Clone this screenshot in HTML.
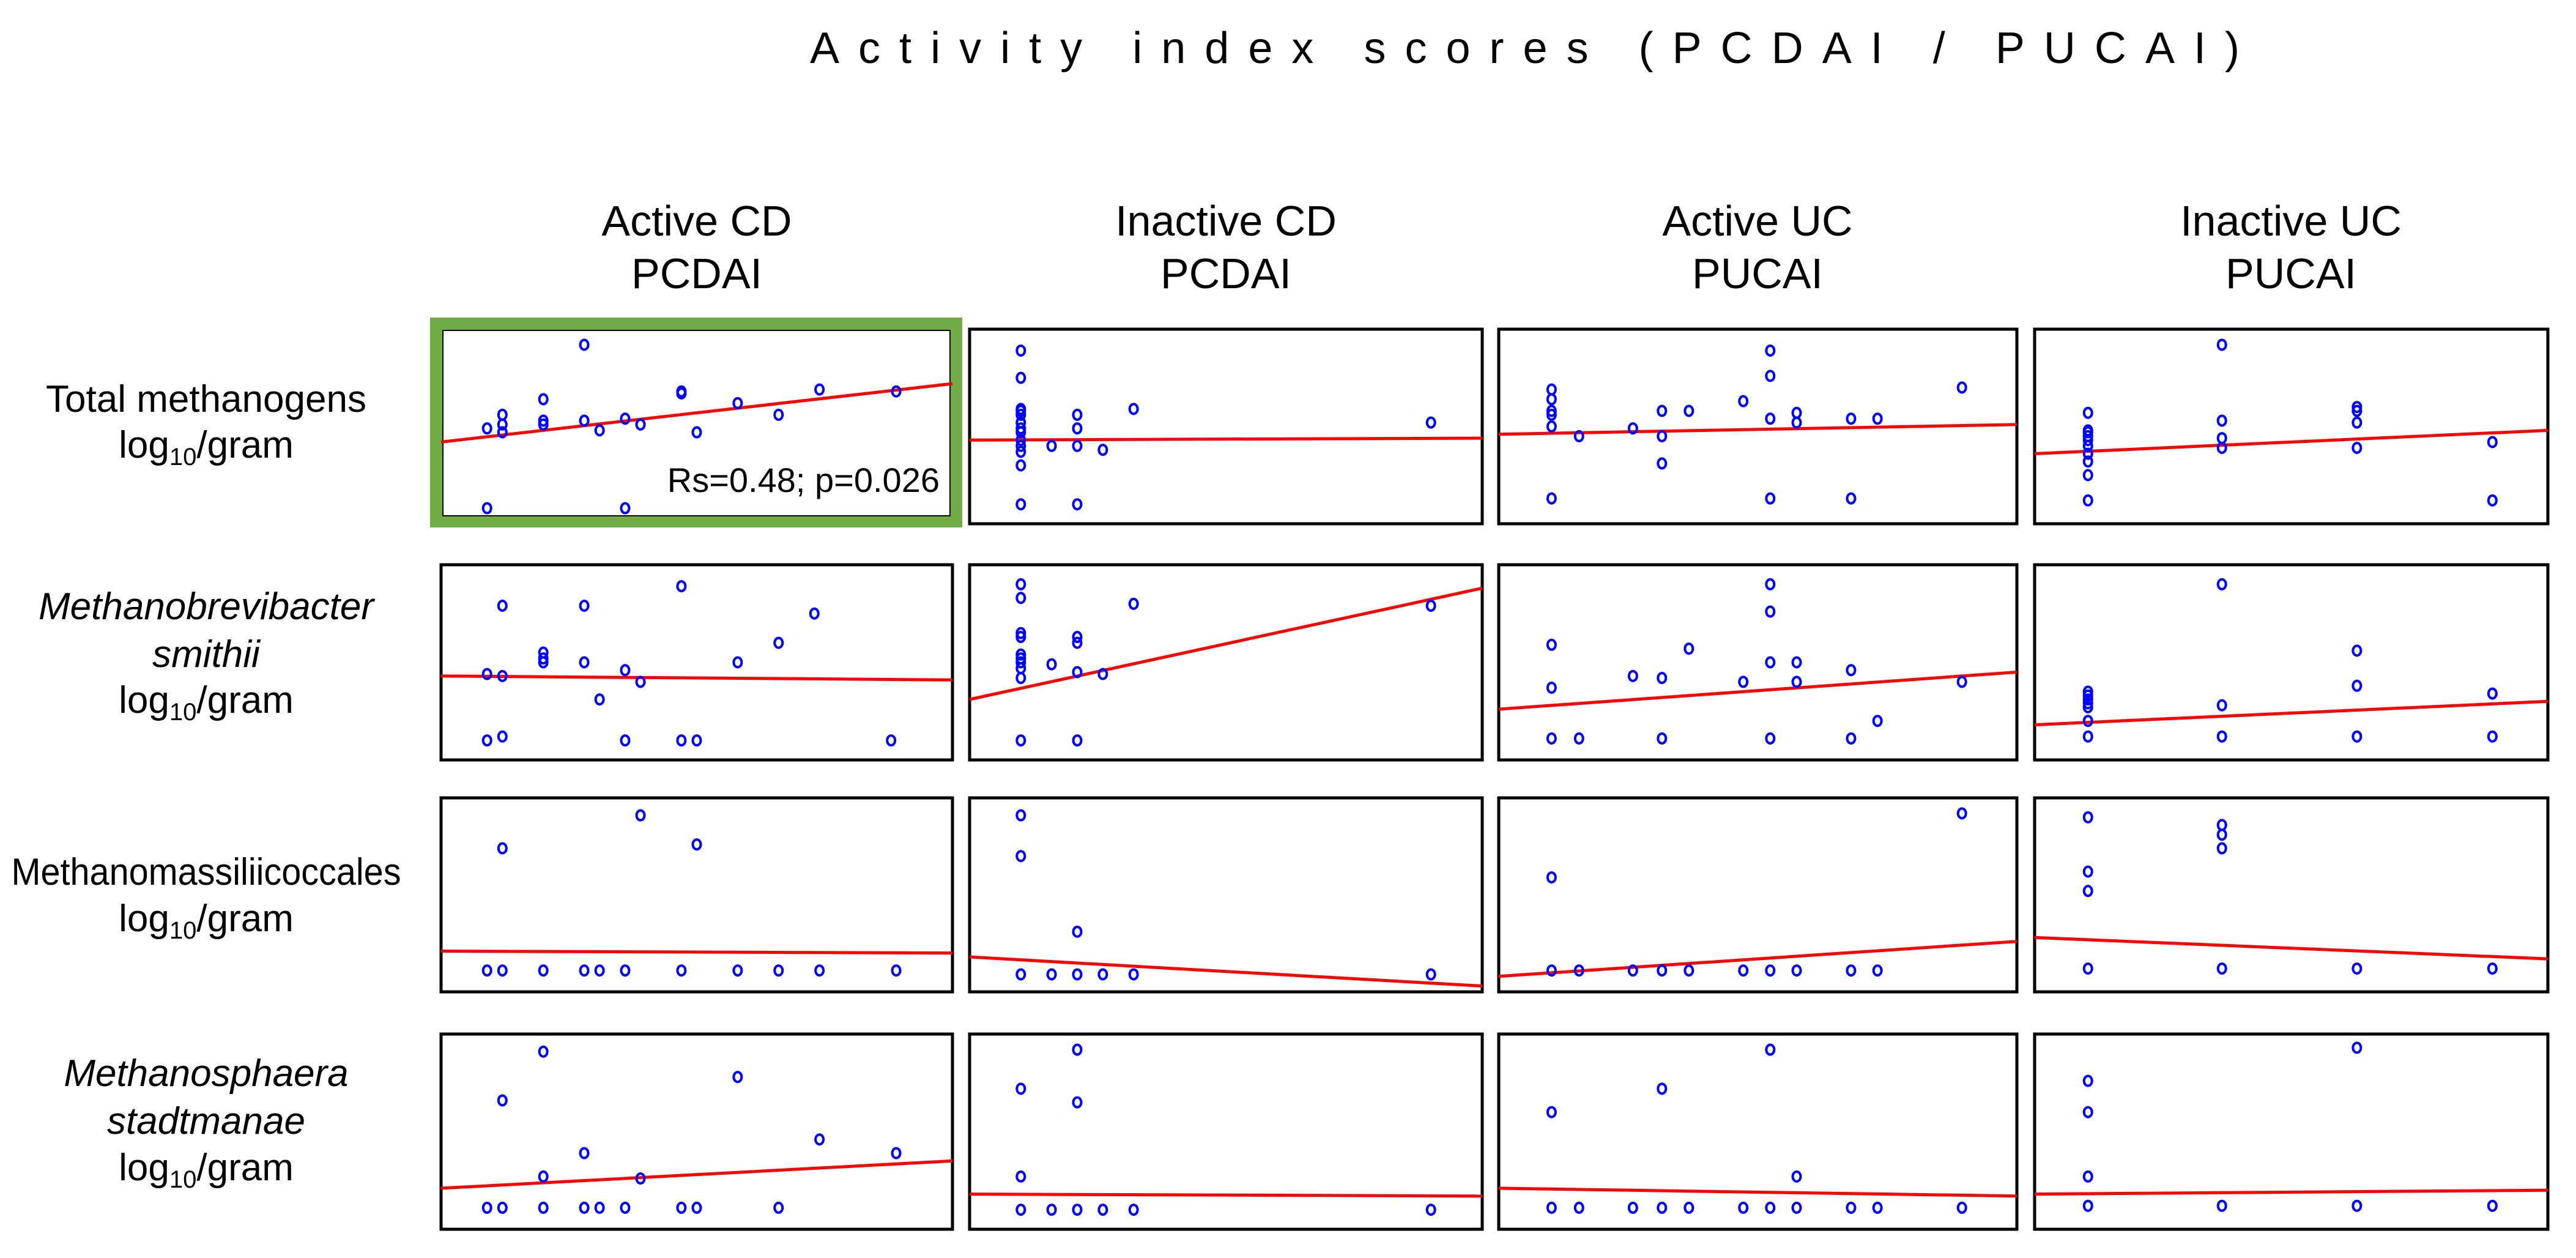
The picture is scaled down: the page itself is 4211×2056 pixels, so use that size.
<!DOCTYPE html>
<html><head><meta charset="utf-8"><style>
html,body{margin:0;padding:0;background:#fff;}
svg{display:block;font-family:"Liberation Sans",sans-serif;}
</style></head><body>
<svg id="fig" width="4211" height="2056" viewBox="0 0 4211 2056" xmlns="http://www.w3.org/2000/svg">
<rect width="4211" height="2056" fill="#fff"/>
<text x="1324" y="103" font-size="72" textLength="2337" lengthAdjust="spacing">Activity index scores (PCDAI / PUCAI)</text>
<g font-size="70" text-anchor="middle">
<text x="1139" y="385">Active CD</text>
<text x="1139" y="471">PCDAI</text>
<text x="2004" y="385">Inactive CD</text>
<text x="2004" y="471">PCDAI</text>
<text x="2873" y="385">Active UC</text>
<text x="2873" y="471">PUCAI</text>
<text x="3745" y="385">Inactive UC</text>
<text x="3745" y="471">PUCAI</text>
</g>
<g font-size="62" text-anchor="middle">
<text x="337" y="673">Total methanogens</text>
<text x="337" y="748">log<tspan font-size="40" dy="12">10</tspan><tspan dy="-12">/gram</tspan></text>
<text x="337" y="1012" font-style="italic">Methanobrevibacter</text>
<text x="337" y="1090" font-style="italic">smithii</text>
<text x="337" y="1165">log<tspan font-size="40" dy="12">10</tspan><tspan dy="-12">/gram</tspan></text>
<text x="337" y="1446" textLength="637" lengthAdjust="spacingAndGlyphs">Methanomassiliicoccales</text>
<text x="337" y="1522">log<tspan font-size="40" dy="12">10</tspan><tspan dy="-12">/gram</tspan></text>
<text x="337" y="1775" font-style="italic">Methanosphaera</text>
<text x="337" y="1853" font-style="italic">stadtmanae</text>
<text x="337" y="1929">log<tspan font-size="40" dy="12">10</tspan><tspan dy="-12">/gram</tspan></text>
</g>
<rect x="713.5" y="529.5" width="849" height="322" fill="none" stroke="#70ad47" stroke-width="21"/>
<g id="plots"></g>
<text x="1536" y="804" font-size="56" text-anchor="end">Rs=0.48; p=0.026</text>
</svg>
<script>
// Data: x = activity index score (0-100), y = log10/gram (0-10); line = fitted [y at x=0, y at x=100]
const p11x=[9,12,12,12,20,20,20,28,28,31,36,39,47,47,50,58,66,74,89,9,36];
const p11y=[4.9,5.6,5.1,4.7,6.4,5.3,5.1,9.2,5.3,4.8,5.4,5.1,6.8,6.7,4.7,6.2,5.6,6.9,6.8,0.8,0.8];
const p11line=[4.2,7.2];
const p12x=[10,10,10,10,10,10,10,10,10,10,10,10,10,16,21,21,21,21,26,32,90];
const p12y=[8.9,7.5,5.9,5.8,5.6,5.2,4.9,4.7,4.3,4.0,3.7,3.0,1.0,4.0,5.6,4.9,4.0,1.0,3.8,5.9,5.2];
const p12line=[4.3,4.4];
const p13x=[10.2,10.2,10.2,10.2,10.2,10.2,15.5,25.9,31.5,31.5,31.5,36.7,47.2,52.4,52.4,52.4,52.4,57.5,57.5,68,68,73.1,89.4];
const p13y=[6.9,6.4,5.8,5.6,5.0,1.3,4.5,4.9,5.8,4.5,3.1,5.8,6.3,8.9,7.6,5.4,1.3,5.7,5.2,5.4,1.3,5.4,7.0];
const p13line=[4.6,5.1];
const p14x=[10.4,10.4,10.4,10.4,10.4,10.4,10.4,10.4,10.4,10.4,36.5,36.5,36.5,36.5,62.8,62.8,62.8,62.8,89.2,89.2];
const p14y=[5.7,4.8,4.7,4.5,4.3,4.0,3.6,3.2,2.5,1.2,9.2,5.3,4.4,3.9,6.0,5.8,5.2,3.9,4.2,1.2];
const p14line=[3.6,4.8];
const p21x=[9,12,12,12,20,20,20,28,28,31,36,39,47,58,66,73,9,36,47,50,88];
const p21y=[4.4,7.9,4.3,1.2,5.5,5.2,5.0,7.9,5.0,3.1,4.6,4.0,8.9,5.0,6.0,7.5,1.0,1.0,1.0,1.0,1.0];
const p21line=[4.3,4.1];
const p22x=[10,10,10,10,10,10,10,10,10,10,21,21,21,21,16,26,32,90];
const p22y=[9.0,8.3,6.5,6.3,5.4,5.2,5.0,4.7,4.2,1.0,6.3,6.0,4.5,1.0,4.9,4.4,8.0,7.9];
const p22line=[3.1,8.8];
const p23x=[10.2,10.2,10.2,15.5,25.9,31.5,31.5,36.7,47.2,52.4,52.4,52.4,52.4,57.5,57.5,68,68,73.1,89.4];
const p23y=[5.9,3.7,1.1,1.1,4.3,4.2,1.1,5.7,4.0,9.0,7.6,5.0,1.1,5.0,4.0,4.6,1.1,2.0,4.0];
const p23line=[2.6,4.5];
const p24x=[10.4,10.4,10.4,10.4,10.4,10.4,10.4,36.5,36.5,36.5,62.8,62.8,62.8,89.2,89.2];
const p24y=[3.5,3.3,3.1,2.9,2.7,2.0,1.2,9.0,2.8,1.2,5.6,3.8,1.2,3.4,1.2];
const p24line=[1.8,3.0];
const p31x=[9,12,20,28,31,36,47,58,66,74,89,12,39,50];
const p31y=[1.1,1.1,1.1,1.1,1.1,1.1,1.1,1.1,1.1,1.1,1.1,7.4,9.1,7.6];
const p31line=[2.1,2.0];
const p32x=[10,10,10,16,21,21,26,32,90];
const p32y=[9.1,7.0,0.9,0.9,3.1,0.9,0.9,0.9,0.9];
const p32line=[1.8,0.3];
const p33x=[10.2,15.5,25.9,31.5,36.7,47.2,52.4,57.5,68,73.1,10.2,89.4];
const p33y=[1.1,1.1,1.1,1.1,1.1,1.1,1.1,1.1,1.1,1.1,5.9,9.2];
const p33line=[0.8,2.6];
const p34x=[10.4,10.4,10.4,10.4,36.5,36.5,36.5,36.5,62.8,89.2];
const p34y=[9.0,6.2,5.2,1.2,8.6,8.1,7.4,1.2,1.2,1.2];
const p34line=[2.8,1.7];
const p41x=[9,12,20,28,31,36,47,50,66,20,12,58,74,28,89,20,39];
const p41y=[1.1,1.1,1.1,1.1,1.1,1.1,1.1,1.1,1.1,9.1,6.6,7.8,4.6,3.9,3.9,2.7,2.6];
const p41line=[2.1,3.5];
const p42x=[21,10,21,10,10,16,21,26,32,90];
const p42y=[9.2,7.2,6.5,2.7,1,1,1,1,1,1];
const p42line=[1.8,1.7];
const p43x=[10.2,15.5,25.9,31.5,36.7,47.2,52.4,57.5,68,73.1,89.4,10.2,31.5,52.4,57.5];
const p43y=[1.1,1.1,1.1,1.1,1.1,1.1,1.1,1.1,1.1,1.1,1.1,6.0,7.2,9.2,2.7];
const p43line=[2.1,1.7];
const p44x=[10.4,10.4,10.4,10.4,36.5,62.8,62.8,89.2];
const p44y=[7.6,6.0,2.7,1.2,1.2,9.3,1.2,1.2];
const p44line=[1.8,2.0];

const panels=[
 [[p11x,p11y,p11line],[p12x,p12y,p12line],[p13x,p13y,p13line],[p14x,p14y,p14line]],
 [[p21x,p21y,p21line],[p22x,p22y,p22line],[p23x,p23y,p23line],[p24x,p24y,p24line]],
 [[p31x,p31y,p31line],[p32x,p32y,p32line],[p33x,p33y,p33line],[p34x,p34y,p34line]],
 [[p41x,p41y,p41line],[p42x,p42y,p42line],[p43x,p43y,p43line],[p44x,p44y,p44line]]];
const colBounds=[[721,1557],[1585,2423],[2450,3297],[3326,4165]];
const rowBounds=[[538,856],[923,1242],[1304,1621],[1690,2009]];
const rowNames=['total','msmithii','mmc','mstadtmanae'];
const colNames=['active-cd','inactive-cd','active-uc','inactive-uc'];
const NS='http://www.w3.org/2000/svg';
const root=document.getElementById('plots');
function mk(tag,attrs){const e=document.createElementNS(NS,tag);for(const k in attrs)e.setAttribute(k,attrs[k]);return e;}
for(let r=0;r<4;r++){for(let c=0;c<4;c++){
 const [x0,x1]=colBounds[c],[y0,y1]=rowBounds[r];
 const sx=v=>x0+v/100*(x1-x0);
 const sy=v=>y1-v/10*(y1-y0);
 const g=mk('g',{});
 
 
 const hl=(r===0&&c===0);
 const fr=mk('rect',{x:hl?724:x0,y:hl?540:y0,width:hl?829:(x1-x0),height:hl?303:(y1-y0),fill:'#fff',stroke:'#000','stroke-width':hl?2:5});
 
 
 g.appendChild(fr);
 const [xs,ys,ln]=panels[r][c];
 const line=mk('line',{x1:sx(0),y1:sy(ln[0]),x2:sx(100),y2:sy(ln[1]),stroke:'#ff0000','stroke-width':5});
 
 
 g.appendChild(line);
 for(let i=0;i<xs.length;i++){
  const p=mk('ellipse',{cx:sx(xs[i]),cy:sy(ys[i]),rx:6.5,ry:8,fill:'none',stroke:'#0000ff','stroke-width':4});
  
  
  g.appendChild(p);
 }
 root.appendChild(g);
}}
</script>
</body></html>
